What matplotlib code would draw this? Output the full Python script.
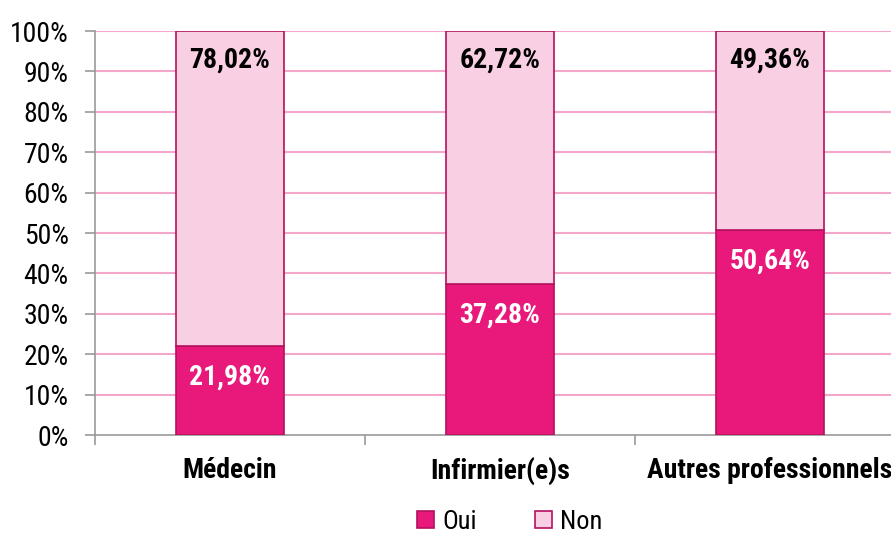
import numpy as np
import matplotlib
matplotlib.use("Agg")
import matplotlib.pyplot as plt
from matplotlib.ticker import FuncFormatter, FixedLocator

# données
categories = ["Médecin", "Infirmier(e)s", "Autres professionnels"]
oui = [21.98, 37.28, 50.64]
non = [78.02, 62.72, 49.36]
oui_labels = ["21,98%", "37,28%", "50,64%"]
non_labels = ["78,02%", "62,72%", "49,36%"]

plt.rcParams['font.family'] = ['Roboto Condensed', 'Liberation Sans', 'DejaVu Sans']

c_oui = "#E8197A"
c_non = "#F9CFE3"
c_edge = "#B3125E"
c_grid = "#F4A6CB"

fig = plt.figure(figsize=(8.91, 5.39), dpi=100)
ax = fig.add_axes([95 / 891, 1 - 435 / 539, 810 / 891, 404 / 539])

x = np.arange(len(categories))
ax.bar(x, oui, width=0.4, color=c_oui, edgecolor=c_edge, linewidth=1.2, label="Oui", zorder=3)
ax.bar(x, non, width=0.4, bottom=oui, color=c_non, edgecolor=c_edge, linewidth=1.2, label="Non", zorder=3)

for i in range(len(categories)):
    ax.text(x[i], oui[i] - 7.6, oui_labels[i], ha='center', va='center', color='white',
            fontsize=20, fontweight='bold', zorder=4)
    ax.text(x[i], 100 - 7.2, non_labels[i], ha='center', va='center', color='black',
            fontsize=20, fontweight='bold', zorder=4)

ax.set_xlim(-0.5, 2.5)
ax.set_ylim(0, 100)
ax.set_yticks(np.arange(0, 101, 10))
ax.yaxis.set_major_formatter(FuncFormatter(lambda v, p: f"{int(v)}%"))
for v in range(10, 101, 10):
    ax.axhline(v, color=c_grid, linewidth=1.5, zorder=1)

ax.xaxis.set_major_locator(FixedLocator([-0.5, 0.5, 1.5, 2.5]))
ax.set_xticklabels([])
ax.xaxis.set_minor_locator(FixedLocator(x))
ax.set_xticklabels(categories, minor=True, fontsize=20, fontweight='bold')
ax.tick_params(axis='x', which='minor', length=0, pad=16)
ax.tick_params(axis='x', which='major', length=7, color='#999999', width=1.2)
ax.tick_params(axis='y', length=7, color='#999999', width=1.2, labelsize=20, pad=12)

for s in ['top', 'right']:
    ax.spines[s].set_visible(False)
for s in ['left', 'bottom']:
    ax.spines[s].set_color('#999999')
    ax.spines[s].set_linewidth(1.2)

ax.legend(loc='center', bbox_to_anchor=(0.512, -0.215), ncol=2, frameon=False, fontsize=19,
          handlelength=0.65, handleheight=0.65, handletextpad=0.3, columnspacing=2.2,
          borderpad=0.2)

fig.savefig("out.png", dpi=100)
